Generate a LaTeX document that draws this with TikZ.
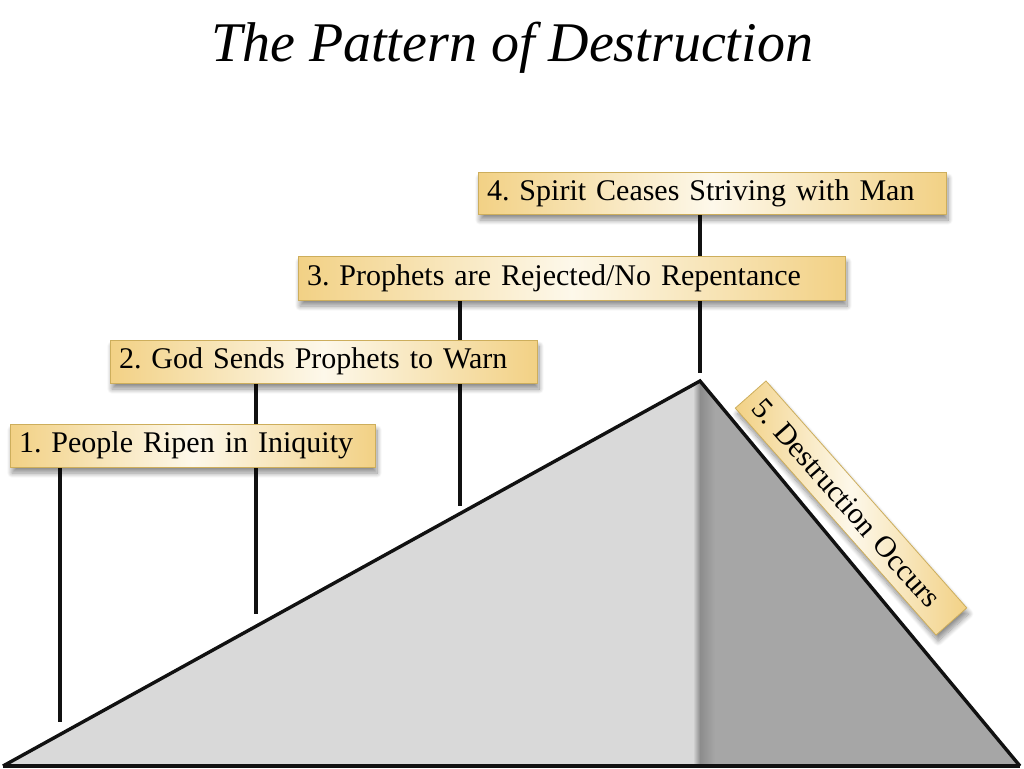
\documentclass[tikz,border=0pt]{standalone}
\usepackage{fontspec}
\setmainfont{Liberation Serif}
\usetikzlibrary{shadows.blur}
\pgfdeclarelayer{back}
\pgfdeclarelayer{mid}
\pgfsetlayers{back,mid,main}
\definecolor{gold}{HTML}{F2D185}
\definecolor{cream}{HTML}{FDF8EA}
\definecolor{goldline}{HTML}{CDAE5C}
\definecolor{lightg}{HTML}{D9D9D9}
\definecolor{darkg}{HTML}{A6A6A6}
\definecolor{bandg}{HTML}{8C8C8C}
\definecolor{lineblk}{HTML}{111111}
\tikzset{
  lbl/.style={draw=goldline, line width=0.8pt, left color=gold, right color=gold, middle color=cream,
    font=\fontsize{30}{36}\selectfont\frenchspacing, align=left, inner xsep=9pt, inner ysep=0pt,
    blur shadow={shadow xshift=2pt, shadow yshift=-6pt, shadow blur steps=10, shadow blur radius=5pt, shadow opacity=45}},
  stem/.style={line width=3.2pt, draw=lineblk},
  tedge/.style={line width=3.4pt, draw=lineblk, line join=miter}
}
\begin{document}
\begin{tikzpicture}[x=1pt,y=-1pt]
\useasboundingbox (0,0) rectangle (1024,768);
% title
\node (title) [anchor=base, font=\fontsize{56}{60}\selectfont\itshape] at (512,62) {The Pattern of Destruction};
% label boxes
\node (b1) [lbl, minimum height=43pt, text width=347pt] at (192.5,445.5) {\mbox{1. People Ripen in Iniquity}};
\node (b2) [lbl, minimum height=43pt, text width=409pt] at (323.5,361.5) {\mbox{2. God Sends Prophets to Warn}};
\node (b3) [lbl, minimum height=44pt, text width=529pt] at (571.5,278) {\mbox{3. Prophets are Rejected/No Repentance}};
\node (b4) [lbl, minimum height=42pt, text width=450pt] at (712,193) {\mbox{4. Spirit Ceases Striving with Man}};
\node (b5) [lbl, minimum height=41pt, text width=281pt, inner xsep=11pt, rotate=-48.5] at (851,508) {\mbox{5. Destruction Occurs}};
% ends of stems
\coordinate (e1) at (60,722);
\coordinate (e2) at (256,614);
\coordinate (e3) at (460,506);
\coordinate (e4) at (700,373);
% triangle
\coordinate (L) at (3,766);
\coordinate (A) at (700,381);
\coordinate (R) at (1020,766);
\coordinate (F) at (700,766);
\begin{pgfonlayer}{back}
  \fill[lightg] (L) -- (A) -- (R) -- cycle;
  \fill[darkg] (A) -- (R) -- (F) -- cycle;
  \begin{scope}
    \clip (L) -- (A) -- (R) -- cycle;
    \shade[left color=lightg, right color=bandg] (693,370) rectangle (700,770);
    \shade[left color=bandg, right color=darkg] (700,370) rectangle (715,770);
  \end{scope}
  \draw[tedge] (L) -- (A) -- (R);
  \draw[line width=4pt, draw=lineblk] (L) -- (R);
\end{pgfonlayer}
% stems
\begin{pgfonlayer}{mid}
  \draw[stem] (b1.south -| e1) -- (e1);
  \draw[stem] (b2.south -| e2) -- (e2);
  \draw[stem] (b3.south -| e3) -- (e3);
  \draw[stem] (b4.south -| e4) -- (e4);
\end{pgfonlayer}
\end{tikzpicture}
\end{document}
